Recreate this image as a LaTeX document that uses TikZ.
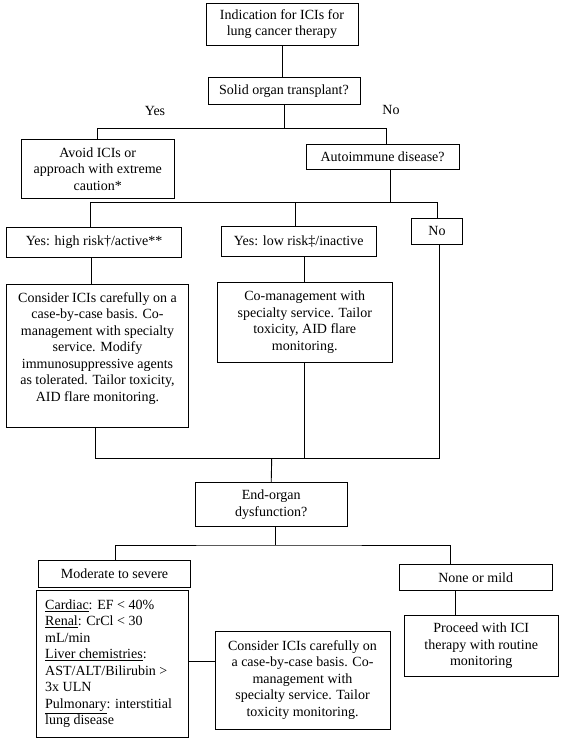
\documentclass[tikz,border=0pt]{standalone}
\usepackage{fontspec}
\setmainfont{Liberation Serif}
\begin{document}
\begin{tikzpicture}[x=1pt,y=-1pt,
  every node/.style={font=\fontsize{14}{16.5}\selectfont},
  box/.style={draw, line width=0.9pt, align=center, inner sep=0pt},
  txt/.style={inner sep=0pt},
  conn/.style={line width=0.9pt}]
\useasboundingbox (0,0) rectangle (563,743);
\node[box, minimum width=152pt, minimum height=42pt] (b1) at (282,24.3) {Indication for ICIs for\\lung cancer therapy};
\node[box, minimum width=152pt, minimum height=26.6pt] (b2) at (284,91) {Solid organ transplant?};
\node[box, minimum width=152.5pt, minimum height=59pt] (avoid) at (97.75,168.8) {Avoid ICIs or\\approach with extreme\\caution*};
\node[box, minimum width=153.3pt, minimum height=25.3pt] (aid) at (382.6,156.7) {Autoimmune disease?};
\node[box, minimum width=175.2pt, minimum height=30pt] (high) at (94.1,242.3) {Yes: high risk†/active**};
\node[box, minimum width=154.5pt, minimum height=30.3pt] (low) at (298.75,241.2) {Yes: low risk‡/inactive};
\node[box, minimum width=50.6pt, minimum height=26pt] (no) at (437,231.3) {No};
\node[box, minimum width=182pt, minimum height=143pt] (cons1) at (97.5,355.8) {};
\node[txt, align=center, anchor=north] (cons1txt) at (97.5,292) {Consider ICIs carefully on a\\case-by-case basis. Co-\\management with specialty\\service. Modify\\immunosuppressive agents\\as tolerated. Tailor toxicity,\\AID flare monitoring.};
\node[box, minimum width=175.5pt, minimum height=80pt] (coman) at (304.75,322.3) {Co-management with\\specialty service. Tailor\\toxicity, AID flare\\monitoring.};
\node[box, minimum width=152.3pt, minimum height=44pt] (end) at (271.2,504.7) {End-organ\\dysfunction?};
\node[box, minimum width=152.4pt, minimum height=27.3pt] (mod) at (114.5,573.7) {Moderate to severe};
\node[box, minimum width=152.7pt, minimum height=26.4pt] (none) at (475.7,577.5) {None or mild};
\node[box, minimum width=152.7pt, minimum height=146.6pt] (card) at (112.35,664) {};
\node[txt, align=left, anchor=north west] (cardtxt) at (45,599.5) {\underline{Cardiac}: EF < 40\%\\\underline{Renal}: CrCl < 30\\mL/min\\\underline{Liver chemistries}:\\AST/ALT/Bilirubin >\\3x ULN\\\underline{Pulmonary}: interstitial\\lung disease};
\node[box, minimum width=175pt, minimum height=98pt] (cons2) at (302.5,680) {Consider ICIs carefully on\\a case-by-case basis. Co-\\management with\\specialty service. Tailor\\toxicity monitoring.};
\node[box, minimum width=154.3pt, minimum height=61.7pt] (proc) at (481.2,645.8) {Proceed with ICI\\therapy with routine\\monitoring};
\node[txt] (yes) at (155,111) {Yes};
\node[txt] (nolab) at (391,110) {No};
\coordinate (j1) at (284,128.3);
\coordinate (j2) at (390,202.3);
\coordinate (j3) at (271.7,458.8);
\coordinate (j4) at (275,545);
\draw[conn] (b1.south) -- (b1.south |- b2.north);
\draw[conn] (b2.south) -- (j1);
\draw[conn] (avoid.north) |- (j1) -| ([xshift=4pt]aid.north);
\draw[conn] ([xshift=7.4pt]aid.south) -- (j2);
\draw[conn] ([xshift=-3.6pt]high.north) |- (j2) -| (no.north);
\draw[conn] ([xshift=-3.25pt]low.north) -- ([xshift=-3.25pt]low.north |- j2);
\draw[conn] ([xshift=-2.5pt]high.south) -- ([xshift=-2.5pt]high.south |- cons1.north);
\draw[conn] (coman.north) -- (coman.north |- low.south);
\draw[conn] ([xshift=-2.5pt]cons1.south) |- (j3) -| ([xshift=2.3pt]no.south);
\draw[conn] (coman.south) -- (coman.south |- j3);
\draw[conn] (j3) -- (end.north);
\draw[conn] ([xshift=3.8pt]end.south) -- (j4);
\draw[conn] ([xshift=1.2pt]mod.north) |- (j4) -| ([xshift=-25.7pt]none.north);
\draw[conn] ([xshift=-20.7pt]none.south) -- ([xshift=-20.7pt]none.south |- proc.north);
\draw[conn] ([yshift=2.7pt]card.east) -- ([yshift=2.7pt]card.east -| cons2.west);
\end{tikzpicture}
\end{document}
